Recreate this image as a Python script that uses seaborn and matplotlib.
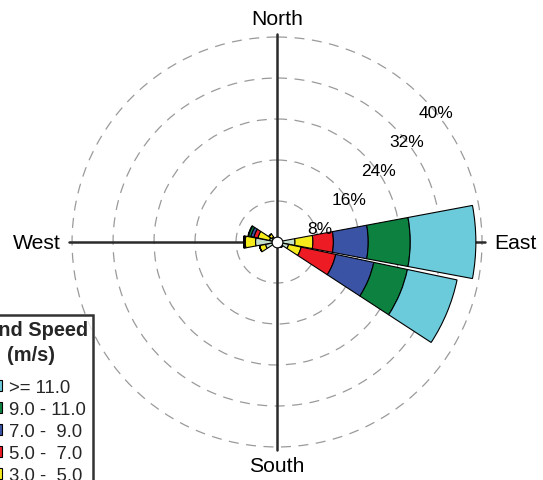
import numpy as np
import matplotlib
matplotlib.use("Agg")
import matplotlib.pyplot as plt
from matplotlib.transforms import offset_copy
import seaborn as sns

# ── data (percent of time, per direction and speed bin) ────────────────────
directions = ["N", "NNE", "NE", "ENE", "E", "ESE", "SE", "SSE",
              "S", "SSW", "SW", "WSW", "W", "WNW", "NW", "NNW"]
speed_bins = ["1.0 -  3.0", "3.0 -  5.0", "5.0 -  7.0",
              "7.0 -  9.0", "9.0 - 11.0", ">= 11.0"]

freq_1_3   = [0, 0, 0, 0, 3.5, 2.3, 1.3, 0, 0, 0, 0, 2.3, 4.2, 1.5, 1.2, 0]
freq_3_5   = [0, 0, 0, 0, 3.5, 2.5, 0.0, 0, 0, 0, 0, 1.2, 2.0, 2.3, 0.7, 0]
freq_5_7   = [0, 0, 0, 0, 4.0, 6.9, 0.0, 0, 0, 0, 0, 0.0, 0.3, 0.8, 0.0, 0]
freq_7_9   = [0, 0, 0, 0, 6.8, 7.6, 0.0, 0, 0, 0, 0, 0.0, 0.0, 0.6, 0.0, 0]
freq_9_11  = [0, 0, 0, 0, 8.2, 6.7, 0.0, 0, 0, 0, 0, 0.0, 0.0, 0.5, 0.0, 0]
freq_11up  = [0, 0, 0, 0, 12.8, 9.9, 0.0, 0, 0, 0, 0, 0.0, 0.0, 0.1, 0.0, 0]

rings = [8, 16, 24, 32, 40]
compass = {"North": 0, "East": 90, "South": 180, "West": 270}

colors = sns.color_palette(["#c3dfc9", "#f6ec1c", "#ed1c24",
                            "#3a53a4", "#0d8140", "#6ccbdb"])

# ── style ──────────────────────────────────────────────────────────────────
sns.set_theme(style="white")
plt.rcParams["font.family"] = ["Liberation Sans", "DejaVu Sans"]

fig = plt.figure(figsize=(5.43, 4.81), dpi=100)
ax = fig.add_axes([0.0855, 0.0154, 0.8494, 0.9588], projection="polar")
ax.set_theta_zero_location("N")
ax.set_theta_direction(-1)
ax.set_ylim(0, 45)
ax.spines["polar"].set_visible(False)
ax.set_thetagrids([])
ax.set_rgrids(rings, labels=[])
ax.yaxis.grid(True, color="#9a9a9a", lw=0.9, linestyle=(0, (8, 6)))
ax.set_axisbelow(True)

# compass cross
place = {"North": ("center", "bottom", 41.8), "South": ("center", "top", 41.8),
         "East": ("left", "center", 42.3), "West": ("right", "center", 42.3)}
for name, deg in compass.items():
    th = np.radians(deg)
    ax.plot([th, th], [0, 40.6], color="#2a2a2a", lw=1.8, zorder=1.5)
    ha, va, rr = place[name]
    ax.text(th, rr, name, ha=ha, va=va, fontsize=15.2, color="black")

# stacked bars
theta = np.radians(np.arange(len(directions)) * 22.5)
width = np.radians(21.2)
series = [freq_1_3, freq_3_5, freq_5_7, freq_7_9, freq_9_11, freq_11up]
bottom = np.zeros(len(directions))
handles = []
for vals, col, lab in zip(series, colors, speed_bins):
    vals = np.array(vals)
    b = ax.bar(theta, vals, width=width, bottom=bottom, color=col,
               edgecolor="black", linewidth=0.8, label=lab, zorder=3)
    handles.append(b)
    bottom += vals

# calm circle
ax.scatter([0], [0], s=60, color="white", edgecolor="black", lw=0.8, zorder=5)

# ring labels
trans = offset_copy(ax.transData, fig=fig, x=14, y=-15, units="dots")
for r in rings:
    ax.text(np.radians(45), r, f"{r}%", transform=trans, ha="center",
            va="center", fontsize=12.5, color="black", zorder=6)

# legend (partly off the canvas, as in the original)
leg = fig.legend(handles[::-1], speed_bins[::-1], title="Wind Speed\n(m/s)",
                 loc="upper right", bbox_to_anchor=(93 / 543, 1 - 316 / 481),
                 fontsize=13.3, title_fontproperties={"weight": "bold", "size": 14.4},
                 frameon=True, fancybox=False, edgecolor="black",
                 handlelength=1.4, handleheight=0.5, handletextpad=0.38,
                 labelspacing=0.27, borderpad=0.25, borderaxespad=0)
leg.get_frame().set_linewidth(1.8)
leg.get_title().set_multialignment("center")
leg.get_title().set_linespacing(1.4)
leg._legend_box.sep = 11  # extra gap between title and entries

fig.savefig("out.png", dpi=100)
